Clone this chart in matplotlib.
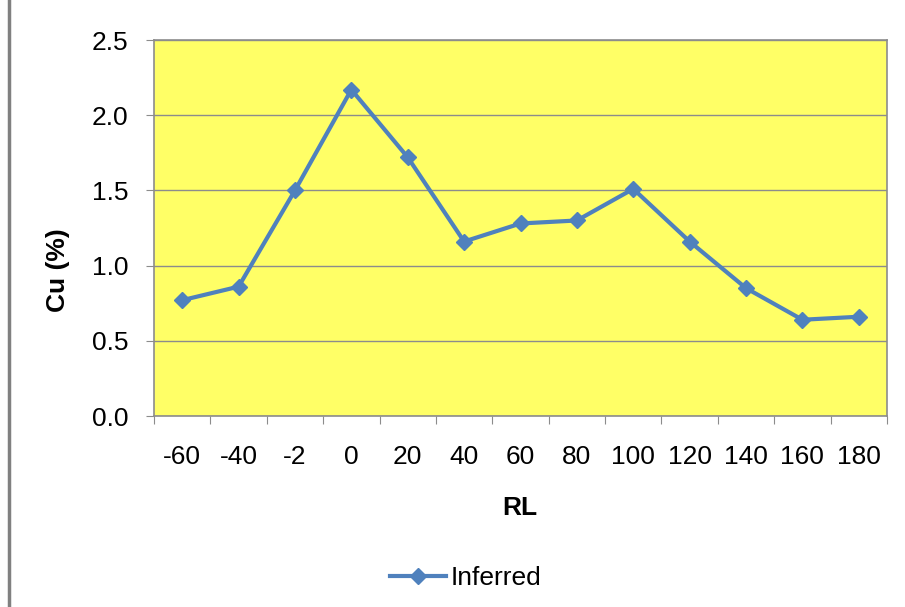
import matplotlib.pyplot as plt
from matplotlib.lines import Line2D

plt.rcParams['font.family'] = ['Liberation Sans', 'DejaVu Sans']

rl_labels = ['-60', '-40', '-2', '0', '20', '40', '60', '80', '100', '120', '140', '160', '180']
cu_inferred = [0.77, 0.86, 1.50, 2.17, 1.72, 1.16, 1.28, 1.30, 1.51, 1.16, 0.85, 0.64, 0.66]
y_ticks = [0.0, 0.5, 1.0, 1.5, 2.0, 2.5]

W, H = 905, 607
FS = 19
fig = plt.figure(figsize=(W / 100, H / 100), dpi=100)
ax = fig.add_axes([154 / W, 1 - 416 / H, (887 - 154) / W, (416 - 40) / H])

ax.set_facecolor('#ffff66')
x = list(range(len(rl_labels)))
line, = ax.plot(x, cu_inferred, color='#4f81bd', linewidth=3, marker='D',
                markersize=8.5, markerfacecolor='#4f81bd', markeredgecolor='#4f81bd',
                label='Inferred', zorder=3)

ax.set_xlim(-0.5, len(rl_labels) - 0.5)
ax.set_ylim(0, 2.5)
ax.set_yticks(y_ticks)
ax.set_yticklabels([f'{v:.1f}' for v in y_ticks])
ax.yaxis.grid(True, color='#8c8c8c', linewidth=1)
ax.set_axisbelow(True)

# category ticks sit on the boundaries, labels at the centres
ax.set_xticks([i - 0.5 for i in range(len(rl_labels) + 1)])
ax.set_xticklabels([])
ax.set_xticks(x, minor=True)
ax.set_xticklabels(rl_labels, minor=True)
ax.tick_params(axis='x', which='major', direction='out', length=5.5, color='#8c8c8c')
ax.tick_params(axis='x', which='minor', length=0, pad=21, labelsize=FS)
ax.tick_params(axis='y', direction='out', length=5.5, color='#8c8c8c', labelsize=FS, pad=13)

for side in ['left', 'bottom', 'right', 'top']:
    ax.spines[side].set_color('#8c8c8c')
    ax.spines[side].set_linewidth(1.2)

fig.text(58 / W, 1 - 270 / H, 'Cu (%)', rotation=90, fontsize=FS, fontweight='bold',
         ha='center', va='center')
fig.text(520 / W, 1 - 508 / H, 'RL', fontsize=FS, fontweight='bold',
         ha='center', va='center')

fig.legend(handles=[line], labels=['Inferred'], loc='center',
           bbox_to_anchor=(466 / W, 1 - 578 / H), frameon=False, fontsize=FS,
           handlelength=2.1, handletextpad=0.2, borderpad=0)

# outer chart border (only the left edge shows)
fig.add_artist(Line2D([8.5 / W, 8.5 / W], [0, 1], color='#808080', linewidth=2.5,
                      transform=fig.transFigure))

fig.savefig('out.png', dpi=100)
